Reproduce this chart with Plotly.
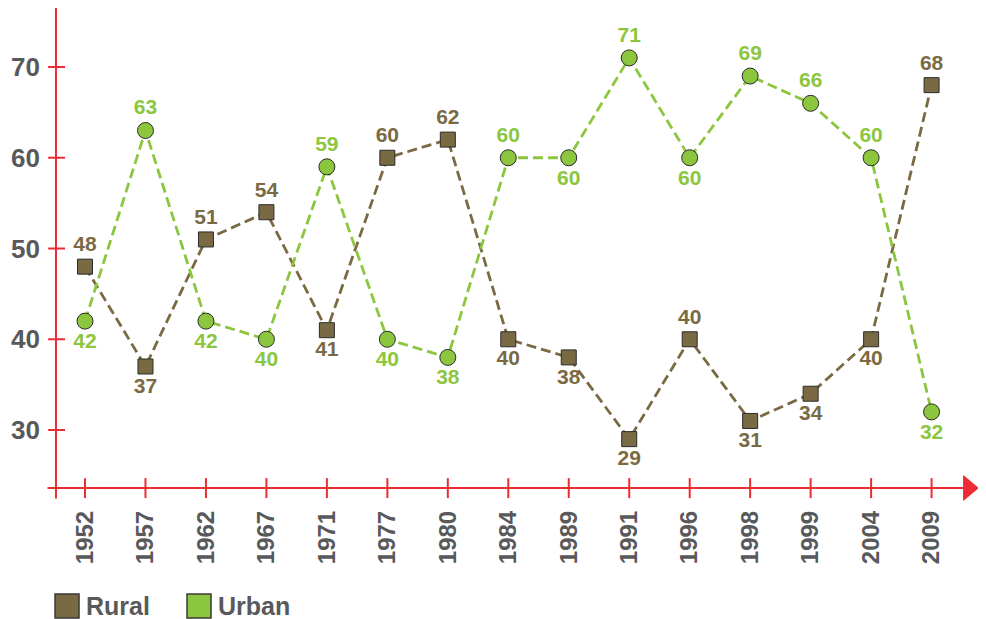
import plotly.graph_objects as go

years = ["1952", "1957", "1962", "1967", "1971", "1977", "1980", "1984", "1989",
         "1991", "1996", "1998", "1999", "2004", "2009"]
rural = [48, 37, 51, 54, 41, 60, 62, 40, 38, 29, 40, 31, 34, 40, 68]
urban = [42, 63, 42, 40, 59, 40, 38, 60, 60, 71, 60, 69, 66, 60, 32]
rural_pos = ["top", "bottom", "top", "top", "bottom", "top", "top", "bottom", "bottom",
             "bottom", "top", "bottom", "bottom", "bottom", "top"]
urban_pos = ["bottom", "top", "bottom", "bottom", "top", "bottom", "bottom", "top", "bottom",
             "top", "bottom", "top", "top", "top", "bottom"]
y_ticks = [30, 40, 50, 60, 70]

RURAL_C = "#7a6a44"
URBAN_C = "#8cc63f"
AXIS_C = "#ee2a34"
TEXT_C = "#58595b"
FONT = "Liberation Sans, Arial, sans-serif"

x = list(range(len(years)))
fig = go.Figure()

fig.add_trace(go.Scatter(
    x=x, y=rural, mode="lines+markers+text", name="Rural", showlegend=False,
    line=dict(color=RURAL_C, width=2.8, dash="10px,5px"),
    marker=dict(symbol="square", size=15, color=RURAL_C, line=dict(color="#2b2b2b", width=1)),
    text=[str(v) for v in rural], textposition=[p + " center" for p in rural_pos],
    textfont=dict(family=FONT, size=21, color=RURAL_C, weight="bold"),
    cliponaxis=False,
))
fig.add_trace(go.Scatter(
    x=x, y=urban, mode="lines+markers+text", name="Urban", showlegend=False,
    line=dict(color=URBAN_C, width=2.8, dash="10px,5px"),
    marker=dict(symbol="circle", size=16, color=URBAN_C, line=dict(color="#2b2b2b", width=1)),
    text=[str(v) for v in urban], textposition=[p + " center" for p in urban_pos],
    textfont=dict(family=FONT, size=21, color=URBAN_C, weight="bold"),
    cliponaxis=False,
))

shapes = []
X_AX_Y = 23.61
Y_AX_X = -0.48
Y_TOP = 76.5
# axis lines
shapes.append(dict(type="line", xref="x", yref="y", x0=-0.62, x1=14.6, y0=X_AX_Y, y1=X_AX_Y,
                   line=dict(color=AXIS_C, width=2), layer="below"))
shapes.append(dict(type="line", xref="x", yref="y", x0=Y_AX_X, x1=Y_AX_X, y0=22.45, y1=Y_TOP,
                   line=dict(color=AXIS_C, width=2), layer="below"))
# arrow head
shapes.append(dict(type="path", xref="x", yref="y",
                   path=f"M 14.53 {X_AX_Y + 1.35} L 14.77 {X_AX_Y} L 14.53 {X_AX_Y - 1.35} Z",
                   fillcolor=AXIS_C, line=dict(color=AXIS_C, width=1), layer="below"))
# y ticks
for v in y_ticks:
    shapes.append(dict(type="line", xref="x", yref="y", x0=-0.61, x1=-0.33, y0=v, y1=v,
                       line=dict(color=AXIS_C, width=2), layer="below"))
# x ticks
for i in x:
    shapes.append(dict(type="line", xref="x", yref="y", x0=i, x1=i, y0=24.7, y1=22.5,
                       line=dict(color=AXIS_C, width=2), layer="below"))

# legend (drawn)
annotations = []
legend_items = [("Rural", RURAL_C, 0.01168, 0.0457), ("Urban", URBAN_C, 0.1518, 0.1858)]
for name, col, px, tx in legend_items:
    shapes.append(dict(type="rect", xref="paper", yref="paper",
                       x0=px, x1=px + 0.0255, y0=-0.2274, y1=-0.179,
                       fillcolor=col, line=dict(color="#3a3a3a", width=1.5)))
    annotations.append(dict(xref="paper", yref="paper", x=tx - 0.003, y=-0.2032,
                            xanchor="left", yanchor="middle", text=name, showarrow=False,
                            font=dict(family=FONT, size=25, color=TEXT_C, weight="bold")))

fig.update_layout(
    width=978, height=611,
    margin=dict(l=36, r=0, t=0, b=114, autoexpand=False),
    paper_bgcolor="white", plot_bgcolor="white",
    showlegend=False,
    shapes=shapes, annotations=annotations,
    xaxis=dict(range=[-0.678, 14.9], tickvals=x, ticktext=years, tickangle=-90,
               showgrid=False, zeroline=False, showline=False, ticks="", automargin=False,
               tickfont=dict(family=FONT, size=24, color=TEXT_C, weight="bold")),
    yaxis=dict(range=[21.74, Y_TOP], tickvals=y_ticks, showgrid=False, zeroline=False,
               showline=False, ticks="", automargin=False, ticklabelstandoff=3,
               tickfont=dict(family=FONT, size=26, color=TEXT_C, weight="bold")),
)

fig.write_html("out.html")
